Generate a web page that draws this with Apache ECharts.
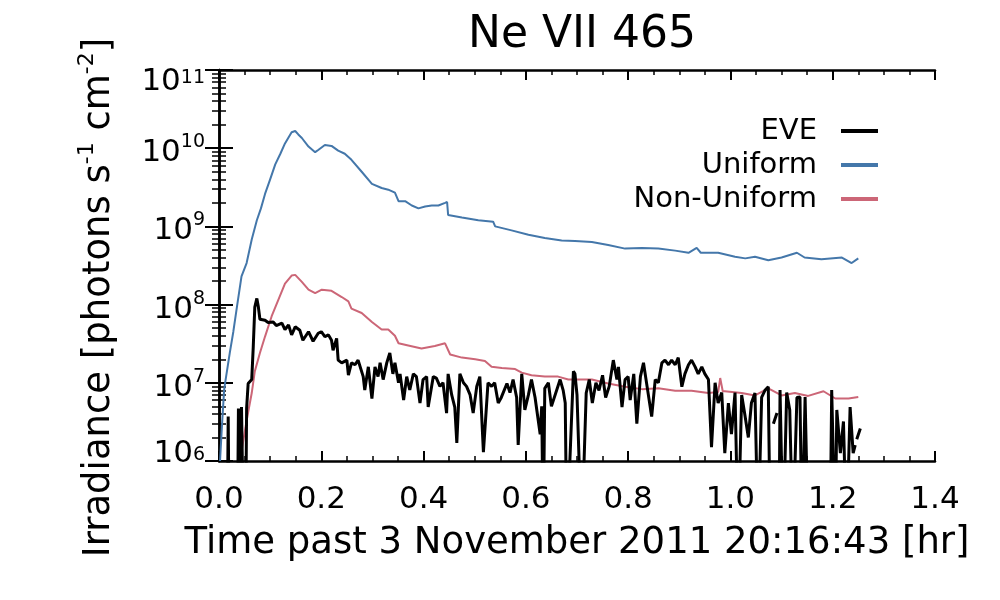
<!DOCTYPE html>
<html>
<head>
    <title>Ne VII 465</title>
    <meta charset="UTF-8">
    <script type="text/javascript" src="https://cdn.jsdelivr.net/npm/echarts@6/dist/echarts.min.js"></script>
    <style type="text/css">
        body { margin: 0; background: #fff; }
    </style>
</head>
<body>
<div id="main" style="width: 1000px; height: 600px;"></div>
<script>
// x tick labels (hr)
var xTicks = [0.0, 0.2, 0.4, 0.6, 0.8, 1.0, 1.2, 1.4];
// y decades
var yDecades = [1e6, 1e7, 1e8, 1e9, 1e10, 1e11];

// Uniform model
var uniTime = [0.002, 0.006, 0.010, 0.012, 0.021, 0.028, 0.035, 0.044, 0.054, 0.064, 0.074, 0.082, 0.090, 0.100, 0.110, 0.120, 0.129, 0.142, 0.149, 0.155, 0.162, 0.175, 0.188, 0.194, 0.207, 0.220, 0.233, 0.246, 0.259, 0.279, 0.299, 0.318, 0.331, 0.344, 0.351, 0.364, 0.377, 0.390, 0.403, 0.416, 0.429, 0.442, 0.446, 0.448, 0.475, 0.507, 0.536, 0.540, 0.572, 0.605, 0.637, 0.670, 0.696, 0.729, 0.761, 0.794, 0.827, 0.859, 0.892, 0.918, 0.934, 0.942, 0.976, 1.009, 1.029, 1.048, 1.074, 1.100, 1.130, 1.145, 1.178, 1.218, 1.237, 1.250];
var uniVals = [1.0e6, 3.0e6, 8.0e6, 1.0e7, 2.4e7, 4.5e7, 9.3e7, 2.3e8, 3.4e8, 6.8e8, 1.2e9, 1.7e9, 2.6e9, 4.0e9, 6.2e9, 8.5e9, 1.15e10, 1.6e10, 1.66e10, 1.5e10, 1.35e10, 1.05e10, 8.9e9, 9.5e9, 1.1e10, 1.07e10, 9.3e9, 8.5e9, 7.1e9, 5.0e9, 3.5e9, 3.1e9, 2.95e9, 2.7e9, 2.1e9, 2.1e9, 1.85e9, 1.7e9, 1.8e9, 1.85e9, 1.85e9, 2.0e9, 2.05e9, 1.4e9, 1.3e9, 1.2e9, 1.15e9, 1.0e9, 8.9e8, 7.8e8, 7.1e8, 6.6e8, 6.5e8, 6.3e8, 5.8e8, 5.2e8, 5.3e8, 5.2e8, 4.9e8, 4.6e8, 5.3e8, 4.6e8, 4.6e8, 4.1e8, 3.9e8, 4.1e8, 3.7e8, 4.0e8, 4.6e8, 4.0e8, 3.8e8, 4.0e8, 3.4e8, 3.9e8];

// Non-uniform model
var nonTime = [0.041, 0.054, 0.064, 0.070, 0.080, 0.090, 0.103, 0.116, 0.129, 0.142, 0.149, 0.162, 0.175, 0.188, 0.201, 0.220, 0.240, 0.253, 0.259, 0.279, 0.299, 0.318, 0.331, 0.344, 0.351, 0.370, 0.396, 0.422, 0.442, 0.452, 0.475, 0.501, 0.520, 0.533, 0.553, 0.579, 0.592, 0.611, 0.637, 0.663, 0.683, 0.729, 0.761, 0.794, 0.827, 0.859, 0.892, 0.924, 0.957, 0.976, 0.980, 0.985, 0.989, 1.022, 1.048, 1.074, 1.100, 1.126, 1.152, 1.182, 1.205, 1.231, 1.250];
var nonVals = [1.0e6, 3.3e6, 7.4e6, 1.4e7, 2.4e7, 3.9e7, 7.1e7, 1.15e8, 1.85e8, 2.35e8, 2.4e8, 1.95e8, 1.55e8, 1.4e8, 1.55e8, 1.5e8, 1.25e8, 1.1e8, 8.9e7, 7.8e7, 6.0e7, 4.8e7, 4.8e7, 4.0e7, 3.2e7, 3.0e7, 2.75e7, 2.95e7, 3.2e7, 2.3e7, 2.1e7, 2.0e7, 1.9e7, 1.6e7, 1.55e7, 1.5e7, 1.35e7, 1.25e7, 1.2e7, 1.2e7, 1.1e7, 1.1e7, 9.8e6, 8.9e6, 8.3e6, 8.5e6, 7.9e6, 7.9e6, 7.4e6, 7.6e6, 1.15e7, 7.8e6, 7.8e6, 7.4e6, 6.9e6, 8.5e6, 6.9e6, 7.4e6, 6.8e6, 7.8e6, 6.3e6, 6.3e6, 6.6e6];

// EVE measurement (1e5 = below the plot floor, null = no data)
var eveTime = [0.000, 0.016, 0.018, 0.020, 0.036, 0.038, 0.040, 0.042, 0.044, 0.048, 0.052, 0.054, 0.057, 0.064, 0.067, 0.070, 0.074, 0.077, 0.080, 0.090, 0.096, 0.106, 0.112, 0.123, 0.129, 0.136, 0.142, 0.149, 0.158, 0.164, 0.175, 0.184, 0.194, 0.200, 0.207, 0.214, 0.220, 0.223, 0.230, 0.233, 0.240, 0.250, 0.253, 0.259, 0.266, 0.272, 0.282, 0.285, 0.292, 0.299, 0.305, 0.311, 0.315, 0.321, 0.328, 0.334, 0.340, 0.344, 0.351, 0.354, 0.361, 0.367, 0.373, 0.380, 0.386, 0.393, 0.399, 0.406, 0.409, 0.419, 0.425, 0.432, 0.438, 0.445, 0.448, 0.455, 0.461, 0.465, 0.471, 0.478, 0.484, 0.491, 0.497, 0.504, 0.510, 0.517, 0.526, 0.533, 0.539, 0.546, 0.552, 0.563, 0.569, 0.575, 0.582, 0.585, 0.592, 0.598, 0.605, 0.611, 0.618, 0.628, 0.631, 0.634, 0.637, 0.644, 0.650, 0.667, 0.673, 0.677, 0.680, 0.693, 0.696, 0.700, 0.709, 0.712, 0.718, 0.724, 0.730, 0.737, 0.743, 0.750, 0.756, 0.763, 0.771, 0.778, 0.781, 0.788, 0.794, 0.800, 0.804, 0.811, 0.817, 0.824, 0.830, 0.837, 0.846, 0.853, 0.859, 0.866, 0.872, 0.879, 0.885, 0.892, 0.898, 0.905, 0.911, 0.918, 0.924, 0.931, 0.937, 0.944, 0.950, 0.957, 0.963, 0.970, 0.976, 0.983, 0.989, 0.996, 1.002, 1.009, 1.015, 1.022, 1.028, 1.035, 1.041, 1.048, 1.054, 1.061, 1.068, 1.074, 1.078, 1.080, 1.084, 1.091, 1.093, 1.095, 1.097, 1.103, 1.110, 1.116, 1.122, 1.130, 1.136, 1.140, 1.146, 1.152, 1.195, 1.198, 1.205, 1.208, 1.215, 1.221, 1.227, 1.234, 1.240, 1.244, 1.246, 1.247, 1.254];
var eveVals = [1e5, 1e5, 3.7e6, 1e5, 1e5, 4.7e6, 1e5, 1e5, 4.9e6, 1e5, 1e5, 4.7e6, 9.8e6, 1.1e7, 2.9e7, 9.3e7, 1.2e8, 9.3e7, 6.5e7, 6.3e7, 5.9e7, 6.0e7, 5.4e7, 5.8e7, 4.8e7, 5.5e7, 4.1e7, 5.2e7, 4.7e7, 3.5e7, 4.5e7, 3.4e7, 4.3e7, 4.5e7, 3.9e7, 4.1e7, 3.5e7, 2.6e7, 3.7e7, 1.95e7, 1.8e7, 1.95e7, 1.25e7, 1.8e7, 1.7e7, 1.95e7, 1.2e7, 8.1e6, 1.6e7, 6.3e6, 1.6e7, 1.2e7, 1.8e7, 1.1e7, 1.8e7, 2.4e7, 1.3e7, 1.8e7, 1.0e7, 1.3e7, 6.0e6, 1.2e7, 8.1e6, 1.3e7, 1.2e7, 5.5e6, 1.1e7, 1.2e7, 4.9e6, 1.2e7, 1.15e7, 9.0e6, 1.0e7, 4.1e6, 1.3e7, 7.0e6, 4.9e6, 1.7e6, 1.3e7, 1.0e7, 9.0e6, 7.0e6, 4.1e6, 9.0e6, 1.2e7, 1.3e6, 1.0e7, 9.0e6, 1.0e7, 5.5e6, 6.5e6, 9.8e6, 7.5e6, 1.1e7, 6.5e6, 1.6e6, 1.3e7, 4.5e6, 7.0e6, 1.1e7, 6.5e6, 2.2e6, 5.0e6, 1e5, 8.5e6, 1.0e7, 5.0e6, 1.1e7, 8.0e6, 5.5e6, 1e5, 1.4e7, 1.3e7, 7.0e6, 1e5, 1e5, 7.4e6, 1.1e7, 5.5e6, 1.0e7, 8.0e6, 1.25e7, 6.5e6, 9.0e6, 1.95e7, 1.1e7, 1.6e7, 4.9e6, 1.1e7, 1.2e7, 6.0e6, 1.3e7, 3.0e6, 1.2e7, 1.8e7, 9.0e6, 3.7e6, 1.1e7, 1.0e7, 1.8e7, 1.95e7, 1.7e7, 1.95e7, 1.7e7, 2.1e7, 8.9e6, 1.3e7, 1.7e7, 1.95e7, 1.6e7, 1.3e7, 1.6e7, 1.3e7, 1.1e7, 1.5e6, 1.0e7, 5.5e6, 7.5e6, 1.26e6, 5.5e6, 2.2e6, 7.5e6, 1e5, 7.0e6, 4.0e6, 2.0e6, 5.5e6, 7.4e6, 1e5, 6.5e6, 8.1e6, 8.9e6, 1e5, null, 3.0e6, 4.1e6, null, 1e5, 8.1e6, 1e5, 7.5e6, 4.5e6, 1e5, 6.5e6, 6.6e6, 1e5, 6.6e6, 1e5, 1e5, 8.1e6, 1e5, 4.5e6, 1.26e6, 3.2e6, 1e5, 4.9e6, 1.26e6, 1.6e6, null, 1.9e6, 2.6e6];

var FONT = 'DejaVu Sans';

function pairs(t, v) {
    return t.map(function (x, i) { return [x, v[i]]; });
}

var myChart = echarts.init(document.getElementById('main'));

function frameLine() {
    return { show: true, lineStyle: { color: '#000', width: 2.5 } };
}

function xAxisCfg(pos, showLabel) {
    return {
        type: 'value', position: pos, min: xTicks[0], max: xTicks[xTicks.length - 1], interval: 0.2,
        axisLine: frameLine(),
        axisTick: { show: true, inside: true, length: 10, lineStyle: { color: '#000', width: 2 } },
        minorTick: { show: true, splitNumber: 4, length: 5, lineStyle: { color: '#000', width: 1.5 } },
        splitLine: { show: false },
        axisLabel: {
            show: showLabel, margin: 23, fontSize: 31, fontFamily: FONT, color: '#000',
            formatter: function (v) { return v.toFixed(1); }
        }
    };
}

function yAxisCfg(pos, showLabel) {
    return {
        type: 'log', logBase: 10, position: pos, min: yDecades[0], max: yDecades[yDecades.length - 1], splitNumber: 5,
        axisLine: frameLine(),
        axisTick: { show: true, inside: true, length: 14, lineStyle: { color: '#000', width: 2 } },
        minorTick: { show: true, splitNumber: 9, length: 7, lineStyle: { color: '#000', width: 1.5 } },
        splitLine: { show: false },
        axisLabel: {
            show: showLabel, margin: 14, showMinLabel: true, showMaxLabel: true,
            formatter: function (v) {
                var e = Math.round(Math.log(v) / Math.LN10);
                if (e === 11) return '{bt|10}{st|' + e + '}';
                if (e === 6) return '{bb|10}{s|' + e + '}';
                return '{b|10}{s|' + e + '}';
            },
            rich: {
                b: { fontSize: 31, lineHeight: 31, padding: [10, 0, 0, 0], fontFamily: FONT, color: '#000' },
                bt: { fontSize: 31, lineHeight: 31, padding: [24, 0, 0, 0], fontFamily: FONT, color: '#000' },
                bb: { fontSize: 31, lineHeight: 31, padding: [10, 0, 24, 0], fontFamily: FONT, color: '#000' },
                s: { fontSize: 19, lineHeight: 20, verticalAlign: 'top', fontFamily: FONT, color: '#000' },
                st: { fontSize: 19, lineHeight: 20, padding: [14, 0, 0, 0], verticalAlign: 'top', fontFamily: FONT, color: '#000' }
            }
        }
    };
}

var xBottom = xAxisCfg('bottom', true);
xBottom.name = 'Time past 3 November 2011 20:16:43 [hr]';
xBottom.nameLocation = 'middle';
xBottom.nameGap = 64;
xBottom.nameTextStyle = { fontSize: 37, fontFamily: FONT, color: '#000' };

var yLeft = yAxisCfg('left', true);
yLeft.name = '{n|Irradiance [photons s}{s|-1}{n| cm}{s|-2}{n|]}';
yLeft.nameLocation = 'middle';
yLeft.nameRotate = 90;
yLeft.nameGap = 106;
yLeft.nameTextStyle = {
    padding: [0, 64, 0, 0],
    rich: {
        n: { fontSize: 37, lineHeight: 37, padding: [10, 0, 0, 0], fontFamily: FONT, color: '#000' },
        s: { fontSize: 22, lineHeight: 22, verticalAlign: 'top', fontFamily: FONT, color: '#000' }
    }
};

myChart.setOption({
    animation: false,
    backgroundColor: '#fff',
    textStyle: { fontFamily: FONT },
    title: {
        text: 'Ne VII 465', left: 577, top: 9, textAlign: 'center',
        textStyle: { fontSize: 44, fontWeight: 'normal', fontFamily: FONT, color: '#000' }
    },
    legend: {
        data: ['EVE', 'Uniform', 'Non-Uniform'],
        orient: 'vertical', align: 'right', right: 117, top: 110,
        icon: 'rect', itemWidth: 37, itemHeight: 4, itemGap: 2,
        textStyle: { fontSize: 29, lineHeight: 32, fontFamily: FONT, color: '#000', padding: [0, 19, 0, 0] }
    },
    grid: { left: 219, right: 65, top: 70, bottom: 139 },
    xAxis: [xBottom, xAxisCfg('top', false)],
    yAxis: [yLeft, yAxisCfg('right', false)],
    series: [
        {
            name: 'Uniform', type: 'line', data: pairs(uniTime, uniVals),
            showSymbol: false, symbol: 'none', color: '#4477aa',
            lineStyle: { width: 2, color: '#4477aa' }
        },
        {
            name: 'Non-Uniform', type: 'line', data: pairs(nonTime, nonVals),
            showSymbol: false, symbol: 'none', color: '#cc6677',
            lineStyle: { width: 2, color: '#cc6677' }
        },
        {
            name: 'EVE', type: 'line', data: pairs(eveTime, eveVals),
            showSymbol: false, symbol: 'none', color: '#000', connectNulls: false,
            lineStyle: { width: 3, color: '#000' }
        }
    ]
});
</script>
</body>
</html>
